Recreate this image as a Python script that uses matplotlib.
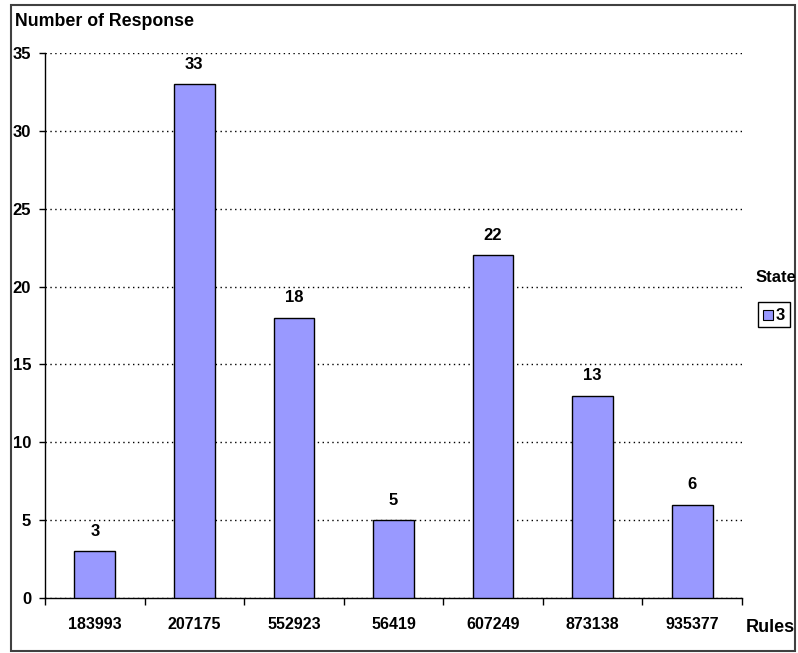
import matplotlib.pyplot as plt
import numpy as np
from matplotlib.patches import Rectangle

plt.rcParams['font.family'] = ['Liberation Sans', 'DejaVu Sans']
plt.rcParams['font.weight'] = 'bold'

categories = ['183993', '207175', '552923', '56419', '607249', '873138', '935377']
values = [3, 33, 18, 5, 22, 13, 6]
yticks = [0, 5, 10, 15, 20, 25, 30, 35]

W, H = 798, 653
fig = plt.figure(figsize=(W/100, H/100), dpi=100)
# figure border
fig.patches.append(Rectangle((11/W, 2/H), 784/W, 646/H, transform=fig.transFigure,
                             fill=False, edgecolor='#404040', linewidth=1.5))

ax = fig.add_axes([45/W, 1 - 598/H, (742-45)/W, (598-53)/H])
x = np.arange(len(categories))
ax.bar(x, values, width=0.41, color='#9999FF', edgecolor='black', linewidth=1, zorder=3)
for xi, v in zip(x, values):
    ax.text(xi, v + 0.8, str(v), ha='center', va='bottom', fontsize=12, fontweight='bold')

ax.set_xlim(-0.5, len(categories) - 0.5)
ax.set_ylim(0, 35)
ax.set_yticks(yticks)
ax.set_yticklabels([str(t) for t in yticks], fontsize=12, fontweight='bold')
ax.yaxis.grid(True, linestyle=(0, (1, 2.5)), color='black', linewidth=1, zorder=0)
ax.set_axisbelow(True)
ax.tick_params(axis='y', length=4, width=1, pad=6)

ax.set_xticks(x)
ax.set_xticklabels(categories, fontsize=11.5, fontweight='bold')
ax.tick_params(axis='x', length=0, pad=14)
ax.set_xticks(np.arange(len(categories) + 1) - 0.5, minor=True)
ax.tick_params(axis='x', which='minor', length=5, width=1, direction='out')

for s in ['top', 'right']:
    ax.spines[s].set_visible(False)
for s in ['left', 'bottom']:
    ax.spines[s].set_linewidth(1)
    ax.spines[s].set_color('black')

fig.text(15/W, 1 - 22/H, 'Number of Response', fontsize=12.8, fontweight='bold',
         ha='left', va='center')
fig.text(746/W, 1 - 627/H, 'Rules', fontsize=13, fontweight='bold', ha='left', va='center')

# legend
fig.text(776/W, 1 - 278/H, 'State', fontsize=12, fontweight='bold', ha='center', va='center')
fig.patches.append(Rectangle((758/W, 1 - 327/H), 32/W, 25/H, transform=fig.transFigure,
                             fill=False, edgecolor='black', linewidth=1))
fig.patches.append(Rectangle((763/W, 1 - 320/H), 10/W, 10/H, transform=fig.transFigure,
                             facecolor='#9999FF', edgecolor='black', linewidth=0.8))
fig.text(776/W, 1 - 315/H, '3', fontsize=12, fontweight='bold', ha='left', va='center')

fig.savefig('out.png', dpi=100)
